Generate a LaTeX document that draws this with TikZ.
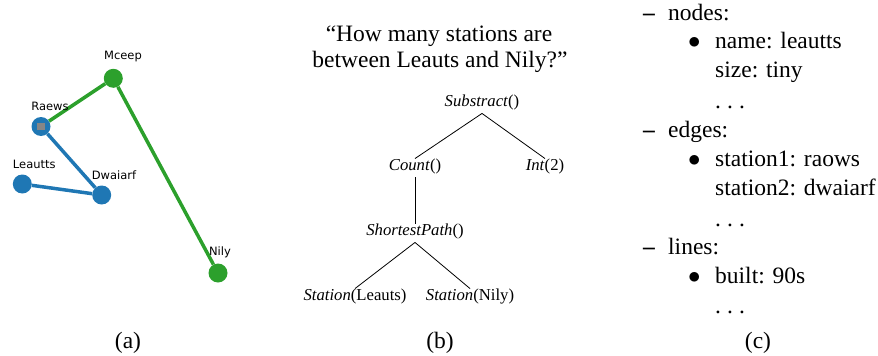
\documentclass[tikz,border=0pt]{standalone}
\usepackage{fontspec}
\setmainfont{Liberation Serif}
\newfontfamily\lblfont{DejaVu Sans}
\definecolor{mplblue}{HTML}{1F77B4}
\definecolor{mplgreen}{HTML}{2CA02C}
\newcommand{\spdots}{.\kern.26em.\kern.26em.}
\begin{document}
\begin{tikzpicture}[x=1pt,y=-1pt,
  station/.style={circle,inner sep=0pt,minimum size=19pt},
  bluest/.style={station,fill=mplblue},
  greenst/.style={station,fill=mplgreen},
  glabel/.style={font=\lblfont\fontsize{11.5}{13}\selectfont,inner sep=0pt},
  bedge/.style={draw=mplblue,line width=3.5pt},
  gedge/.style={draw=mplgreen,line width=3.5pt},
  tnode/.style={font=\fontsize{16.7}{20}\selectfont,inner sep=4.8pt,text height=0.69em,text depth=0.2em},
  tedge/.style={draw=black,line width=0.8pt},
  body/.style={font=\fontsize{23.5}{28}\selectfont,inner sep=0pt},
  item/.style={body,anchor=base west},
  caption/.style={body,anchor=base}
]
\useasboundingbox (0,0) rectangle (878,356);
% ---------- (a) ----------
\node[greenst] (mceep) at (113.3,78.3) {};
\node[bluest] (raews) at (41,126.5) {};
\node[bluest] (leautts) at (22.3,184) {};
\node[bluest] (dwaiarf) at (101.7,195) {};
\node[greenst] (nily) at (218,273) {};
\node[fill=gray!95,inner sep=0pt,minimum size=7.5pt] (raewsmark) at (raews) {};
\draw[gedge] (raews) -- (mceep);
\draw[gedge] (mceep) -- (nily);
\draw[bedge] (raews) -- (dwaiarf);
\draw[bedge] (leautts) -- (dwaiarf);
\node[glabel] (lmceep) at (123,57) {Mceep};
\node[glabel] (lraews) at (50,106) {Raews};
\node[glabel] (lleautts) at (34.3,164) {Leautts};
\node[glabel] (ldwaiarf) at (114,175) {Dwaiarf};
\node[glabel] (lnily) at (220,252) {Nily};
\node[caption] (capa) at (128,348) {(a)};
% ---------- (b) ----------
\node[caption] (q1) at (439,41) {“How many stations are};
\node[caption] (q2) at (440,67) {between Leauts and Nily?”};
\node[tnode] (sub) at (482,104) {\textit{Substract}()};
\node[tnode] (count) at (415,168) {\textit{Count}()};
\node[tnode] (int) at (545,168) {\textit{Int}(2)};
\node[tnode] (sp) at (415,233) {\textit{ShortestPath}()};
\node[tnode] (stl) at (355,298) {\textit{Station}(Leauts)};
\node[tnode] (stn) at (470,298) {\textit{Station}(Nily)};
\draw[tedge] (sub.south) -- (count.north);
\draw[tedge] (sub.south) -- (int.north);
\draw[tedge] (count.south) -- (sp.north);
\draw[tedge] (sp.south) -- (stl.north);
\draw[tedge] (sp.south) -- (stn.north);
\node[caption] (capb) at (440,348) {(b)};
% ---------- (c) ----------
\node[item] (d1) at (643,20) {\textbf{–}};
\node[item] (t1) at (668,20) {nodes:};
\node[item] (b1) at (688,48) {$\bullet$};
\node[item] (t2) at (715,48) {name: leautts};
\node[item] (t3) at (715,77) {size: tiny};
\node[item] (t4) at (715,108) {\spdots};
\node[item] (d2) at (643,137) {\textbf{–}};
\node[item] (t5) at (668,137) {edges:};
\node[item] (b2) at (688,166) {$\bullet$};
\node[item] (t6) at (715,166) {station1: raows};
\node[item] (t7) at (715,195) {station2: dwaiarf};
\node[item] (t8) at (715,226) {\spdots};
\node[item] (d3) at (643,254) {\textbf{–}};
\node[item] (t9) at (668,254) {lines:};
\node[item] (b3) at (688,283) {$\bullet$};
\node[item] (t10) at (715,283) {built: 90s};
\node[item] (t11) at (715,313) {\spdots};
\node[caption] (capc) at (758,348) {(c)};
\end{tikzpicture}
\end{document}
